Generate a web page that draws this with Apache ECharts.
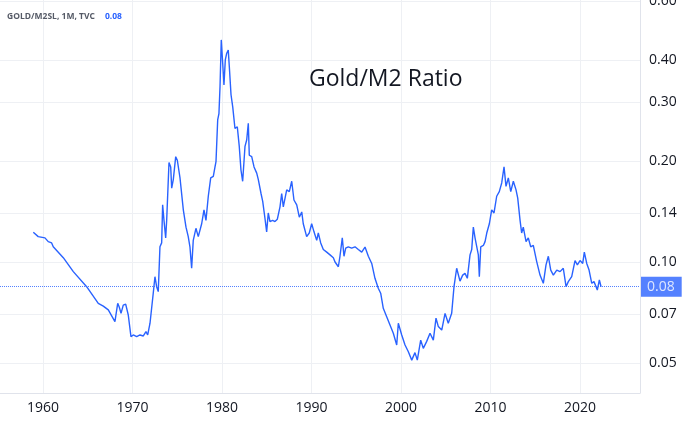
<!DOCTYPE html>
<html>
<head>
<meta charset="utf-8">
<script src="https://cdn.jsdelivr.net/npm/echarts@6/dist/echarts.min.js"></script>
<style>
html,body{margin:0;padding:0;background:#fff;}
#chart{width:690px;height:421px;}
</style>
</head>
<body>
<div id="chart"></div>
<script>
// Decimal years (monthly-ish samples)
const years = [
1958.92,1959.47,1960.22,1960.59,1960.78,1960.97,1961.15,1962.27,1963.39,1964.88,
1966.18,1966.74,1967.30,1968.04,1968.23,1968.35,1968.53,1968.72,1968.97,1969.24,
1969.53,1969.72,1969.83,1970.09,1970.47,1970.84,1971.21,1971.51,1971.70,1971.96,
1972.15,1972.32,1972.51,1972.70,1972.88,1973.07,1973.26,1973.37,1973.52,1973.71,
1973.82,1974.08,1974.27,1974.38,1974.56,1974.83,1975.01,1975.31,1975.50,1975.68,
1975.98,1976.23,1976.42,1976.61,1976.79,1977.09,1977.35,1977.73,1977.99,1978.21,
1978.47,1978.74,1979.03,1979.22,1979.33,1979.52,1979.66,1979.78,1979.92,1980.08,
1980.22,1980.37,1980.53,1980.70,1980.82,1981.01,1981.20,1981.45,1981.71,1981.93,
1982.12,1982.31,1982.57,1982.76,1982.94,1983.05,1983.32,1983.58,1983.88,1984.06,
1984.36,1984.55,1984.80,1984.99,1985.17,1985.36,1985.66,1985.92,1986.18,1986.48,
1986.67,1986.85,1987.23,1987.52,1987.79,1988.04,1988.35,1988.64,1988.91,1989.08,
1989.46,1989.75,1990.02,1990.28,1990.58,1990.76,1991.03,1991.32,1991.70,1992.07,
1992.44,1992.63,1993.00,1993.18,1993.44,1993.63,1993.82,1994.11,1994.49,1994.86,
1995.23,1995.61,1995.98,1996.35,1996.73,1997.09,1997.46,1997.73,1998.02,1998.40,
1998.77,1999.14,1999.52,1999.70,2000.08,2000.45,2000.82,2001.20,2001.56,2001.82,
2002.20,2002.49,2002.87,2003.24,2003.61,2003.91,2004.17,2004.55,2004.92,2005.28,
2005.66,2005.92,2006.22,2006.59,2006.89,2007.15,2007.41,2007.71,2007.90,2008.08,
2008.27,2008.46,2008.64,2008.75,2008.91,2009.20,2009.39,2009.58,2009.87,2010.13,
2010.39,2010.69,2010.98,2011.25,2011.51,2011.73,2011.99,2012.26,2012.55,2012.85,
2013.04,2013.30,2013.48,2013.66,2013.97,2014.22,2014.49,2014.78,2015.16,2015.53,
2015.90,2016.20,2016.46,2016.73,2017.02,2017.40,2017.77,2018.13,2018.44,2018.69,
2019.07,2019.44,2019.70,2020.00,2020.30,2020.48,2020.75,2021.01,2021.31,2021.56,
2021.79,2021.93,2022.16,2022.35
];
// Gold / M2 ratio values
const ratio = [
0.1226,0.119,0.118,0.115,0.116,0.114,0.111,0.103,0.0936,0.0844,
0.0753,0.0739,0.0720,0.0664,0.0659,0.0753,0.0733,0.0703,0.0744,0.0749,
0.0695,0.0687,0.0599,0.0606,0.0599,0.0606,0.0602,0.0620,0.0606,0.0657,
0.0664,0.0807,0.0904,0.0844,0.0816,0.111,0.114,0.148,0.133,0.118,
0.133,0.198,0.192,0.166,0.176,0.206,0.201,0.178,0.176,0.143,
0.127,0.119,0.111,0.0958,0.116,0.126,0.119,0.130,0.143,0.133,
0.157,0.178,0.180,0.192,0.199,0.265,0.277,0.333,0.459,0.391,
0.337,0.400,0.419,0.428,0.382,0.315,0.290,0.250,0.253,0.221,
0.188,0.174,0.221,0.231,0.259,0.208,0.206,0.192,0.184,0.176,
0.160,0.1515,0.135,0.123,0.140,0.132,0.133,0.132,0.134,0.146,
0.160,0.146,0.164,0.162,0.174,0.153,0.148,0.136,0.141,0.130,
0.119,0.122,0.130,0.123,0.116,0.122,0.114,0.109,0.107,0.105,
0.103,0.100,0.0968,0.104,0.118,0.104,0.110,0.111,0.110,0.111,
0.109,0.107,0.1108,0.104,0.099,0.0894,0.0835,0.0807,0.0728,0.0687,
0.0649,0.0613,0.0566,0.0657,0.0606,0.0566,0.0540,0.0510,0.0537,0.0510,
0.0585,0.0553,0.0580,0.0613,0.0585,0.0680,0.0642,0.0627,0.0703,0.0657,
0.0703,0.0844,0.0958,0.0877,0.0914,0.0925,0.0894,0.105,0.109,0.127,
0.118,0.119,0.105,0.0904,0.111,0.112,0.115,0.122,0.130,0.143,
0.140,0.157,0.162,0.172,0.192,0.168,0.178,0.162,0.174,0.164,
0.155,0.133,0.122,0.127,0.115,0.118,0.111,0.112,0.1003,0.0914,
0.0864,0.098,0.104,0.0946,0.0914,0.0946,0.0936,0.0958,0.0844,0.0874,
0.0904,0.101,0.098,0.101,0.099,0.107,0.099,0.0946,0.0864,0.0874,
0.0844,0.0825,0.0884,0.0844
];
const xTicks = [1960,1970,1980,1990,2000,2010,2020];
const yTicks = [0.05,0.07,0.10,0.14,0.20,0.30,0.40,0.60];
const lastLabel = '0.08';

const data = years.map((y,i)=>[y, ratio[i]]);
const lastValue = ratio[ratio.length-1];

const chart = echarts.init(document.getElementById('chart'), null, {renderer:'canvas'});
const gridColor = '#eef0f4';
const fontFam = '"Open Sans", "DejaVu Sans", sans-serif';
chart.setOption({
  animation:false,
  backgroundColor:'#ffffff',
  title:[
    {text:'Gold/M2 Ratio', left:304, top:63,
     textStyle:{fontFamily:fontFam, fontSize:23, fontWeight:'normal', color:'#131722'}},
    {text:'{a|GOLD/M2SL, 1M, TVC}  {b|' + lastLabel + '}', left:2, top:3,
     textStyle:{rich:{
       a:{fontFamily:fontFam, fontSize:8.5, color:'#555a66'},
       b:{fontFamily:fontFam, fontSize:8.5, color:'#2962FF'}
     }}}
  ],
  grid:{left:0, right:50, top:0, bottom:28, containLabel:false, outerBoundsMode:'none'},
  xAxis:{
    type:'value', min:1955.2, max:2026.7,
    axisLine:{show:true, lineStyle:{color:'#e0e3eb'}},
    axisTick:{show:false, customValues:xTicks},
    axisLabel:{customValues:xTicks, color:'#131722', fontFamily:fontFam, fontSize:14, margin:8,
               formatter:v=>String(Math.round(v))},
    splitLine:{show:true, lineStyle:{color:gridColor, width:1}}
  },
  yAxis:{
    type:'log', logBase:10, min:0.0407, max:0.6036, position:'right',
    axisLine:{show:true, lineStyle:{color:'#e0e3eb'}},
    axisTick:{show:false, customValues:yTicks},
    axisLabel:{customValues:yTicks, color:'#131722', fontFamily:fontFam, fontSize:14, margin:9,
               formatter:v=>Number(v).toFixed(2)},
    splitLine:{show:true, lineStyle:{color:gridColor, width:1}}
  },
  series:[{
    type:'line', data:data, showSymbol:false, symbol:'none',
    lineStyle:{color:'#2962FF', width:1.4},
    markLine:{
      silent:true, symbol:'none', precision:4,
      lineStyle:{color:'#2962FF', type:'dotted', width:1, opacity:0.8},
      label:{show:true, position:'end', formatter:lastLabel, distance:1,
             backgroundColor:'#2962FF', color:'#ffffff', fontFamily:fontFam, fontSize:14,
             padding:[3,7,3,6], lineHeight:14},
      data:[{yAxis:lastValue}]
    }
  }]
});
</script>
</body>
</html>
